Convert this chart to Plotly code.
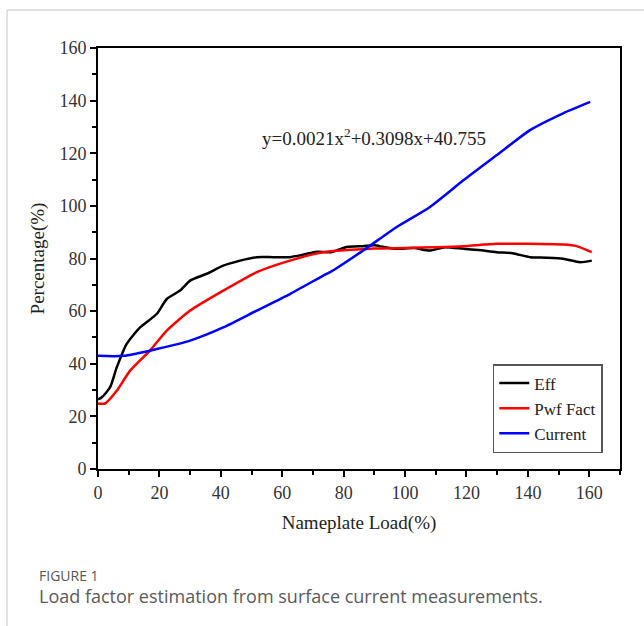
import plotly.graph_objects as go

# Data
eff_x = [0, 1.2, 3.9, 6.1, 9.3, 13.7, 19.1, 22.4, 26.7, 30, 35.4, 40.8, 46.3, 51.7, 57, 62.5, 67, 71.2, 76, 81, 86.3, 90, 93, 97.3, 103, 108, 113, 119, 124, 129.8, 135, 140.7, 146, 151.5, 157, 160.8]
eff_y = [26.5, 27.2, 31, 38.6, 47.5, 53.8, 58.9, 64.6, 67.8, 71.6, 74.2, 77.3, 79.2, 80.5, 80.5, 80.5, 81.5, 82.6, 82.4, 84.4, 84.7, 85, 84.4, 83.7, 84, 83, 84.3, 83.7, 83.2, 82.4, 82, 80.5, 80.3, 79.9, 78.6, 79.2]

pwf_x = [0, 2.3, 6.1, 10.4, 16.9, 22.4, 30, 40.8, 51.7, 62.5, 73.4, 81, 90, 100, 110, 119, 129.8, 140, 151.6, 155.9, 160.8]
pwf_y = [24.9, 24.9, 29.7, 37.3, 45, 52.6, 60.2, 67.8, 74.8, 79.2, 82.4, 83.2, 83.8, 84, 84.3, 84.7, 85.6, 85.6, 85.3, 84.7, 82.4]

cur_x = [0, 8.3, 19.1, 30, 40.8, 51.7, 62.5, 73.4, 75.6, 86.3, 97.3, 108, 119, 129.8, 140.7, 151.5, 160.3]
cur_y = [43, 43, 45.6, 48.8, 53.8, 60.2, 66.5, 73.5, 74.8, 83, 92, 99.5, 109.7, 119.2, 128.8, 135.2, 139.5]

x_ticks = [0, 20, 40, 60, 80, 100, 120, 140, 160]
y_ticks = [0, 20, 40, 60, 80, 100, 120, 140, 160]

SERIF = "Liberation Serif, Times New Roman, serif"

fig = go.Figure()
fig.add_trace(go.Scatter(x=eff_x, y=eff_y, mode="lines", name="Eff",
                         line=dict(color="black", width=2.5, shape="spline", smoothing=0.6)))
fig.add_trace(go.Scatter(x=pwf_x, y=pwf_y, mode="lines", name="Pwf Fact",
                         line=dict(color="#ff0000", width=2.5, shape="spline", smoothing=0.6)))
fig.add_trace(go.Scatter(x=cur_x, y=cur_y, mode="lines", name="Current",
                         line=dict(color="#0000ff", width=2.5, shape="spline", smoothing=0.6)))

axis_common = dict(
    showline=True, linecolor="black", linewidth=2, mirror=True,
    showgrid=False, zeroline=False,
    ticks="outside", ticklen=6, tickwidth=2, tickcolor="black",
    tickfont=dict(family=SERIF, size=18, color="#333333"),
    minor=dict(ticks="outside", ticklen=4, tickwidth=1.5, tickcolor="black", dtick=10),
)

fig.update_xaxes(range=[0, 170], tickvals=x_ticks,
                 title=dict(text="Nameplate Load(%)", font=dict(family=SERIF, size=19, color="#222"), standoff=14),
                 **axis_common)
fig.update_yaxes(range=[0, 160], tickvals=y_ticks,
                 title=dict(text="Percentage(%)", font=dict(family=SERIF, size=19, color="#222"), standoff=10),
                 **axis_common)

fig.add_annotation(x=89.9, y=126, xref="x", yref="y", showarrow=False,
                   text="y=0.0021x<sup>2</sup>+0.3098x+40.755",
                   font=dict(family=SERIF, size=19, color="#222"))

# outer gray frame of the figure panel
fig.add_shape(type="line", xref="paper", yref="paper", x0=-0.1743, x1=1.1, y0=1.0903, y1=1.0903,
              line=dict(color="#c4c4c4", width=1))
fig.add_shape(type="line", xref="paper", yref="paper", x0=-0.1743, x1=-0.1743, y0=1.0903, y1=-0.38,
              line=dict(color="#c4c4c4", width=1))

fig.add_annotation(x=-0.115, y=-0.254, xref="paper", yref="paper", xanchor="left", yanchor="middle",
                   showarrow=False, text="FIGURE 1", borderpad=0,
                   font=dict(family="Open Sans, sans-serif", size=14, color="#555555"))
fig.add_annotation(x=-0.115, y=-0.3017, xref="paper", yref="paper", xanchor="left", yanchor="middle",
                   showarrow=False, text="Load factor estimation from surface current measurements.",
                   borderpad=0,
                   font=dict(family="Open Sans, sans-serif", size=18, color="#5a5a5a"))

fig.update_layout(
    width=644, height=626,
    margin=dict(l=98, r=24, t=48, b=157),
    paper_bgcolor="white", plot_bgcolor="white",
    legend=dict(x=0.967, y=0.038, xanchor="right", yanchor="bottom",
                bordercolor="#555555", borderwidth=1.5, bgcolor="white",
                font=dict(family=SERIF, size=17, color="#222"),
                tracegroupgap=0, itemwidth=30),
    showlegend=True,
)

fig.write_html("out.html")
